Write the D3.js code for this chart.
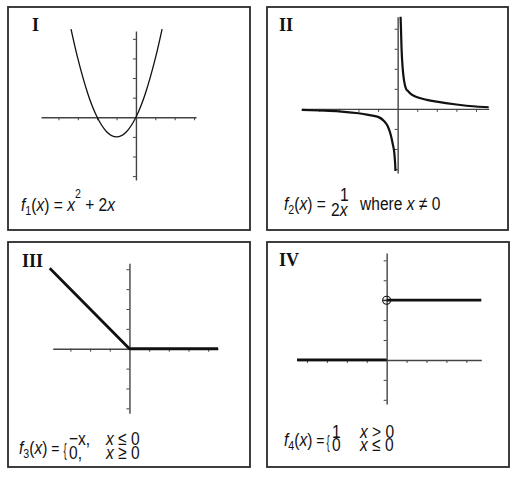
<!DOCTYPE html>
<html><head><meta charset="utf-8">
<script src="https://cdn.jsdelivr.net/npm/d3@7"></script>
<style>
html,body{margin:0;padding:0;background:#fff;}
svg{display:block;}
.fx{font-family:"Liberation Sans",Arial,sans-serif;font-size:19px;fill:#111;}
.roman{font-family:"Liberation Serif","Times New Roman",serif;font-weight:bold;font-size:18px;fill:#111;}
.axis path,.axis line{stroke:#444;}
.axis path{stroke-width:1.4;}
.axis line{stroke-width:1;}
</style></head><body>
<svg id="c" width="523" height="482"></svg>
<script>
// ---------- data ----------
const panelLabels = ["I", "II", "III", "IV"];

// Panel I : f1(x) = x^2 + 2x
const f1X = [-3.35, -3, -2.5, -2, -1.5, -1, -0.5, 0, 0.5, 1, 1.35];
const f1Y = [4.5, 3, 1.25, 0, -0.75, -1, -0.75, 0, 1.25, 3, 4.5];
const f1XTicks = [-4, -3, -2, -1, 1, 2, 3];
const f1YTicks = [-3, -2, -1, 1, 2, 3, 4];

// Panel II : f2(x) = 1/(2x)
const f2NegX = [-4.9, -4, -3, -2, -1.5, -1, -0.7, -0.5, -0.35, -0.25, -0.17, -0.13, -0.11];
const f2NegY = [-0.05, -0.08, -0.12, -0.22, -0.3, -0.4, -0.6, -0.88, -1.3, -1.75, -2.2, -2.7, -3.1];
const f2PosX = [0.15, 0.17, 0.2, 0.26, 0.33, 0.43, 0.5, 0.7, 1, 1.5, 2, 3, 4, 4.65];
const f2PosY = [4.6, 4.0, 3.0, 2.0, 1.4, 1.0, 0.92, 0.72, 0.58, 0.45, 0.36, 0.22, 0.12, 0.08];
const f2XTicks = [-4, -3, -2, -1, 1, 2, 3, 4];
const f2YTicks = [-3, -2, -1, 1, 2, 3, 4];

// Panel III : f3(x) = -x (x<=0), 0 (x>=0)
const f3X = [-4.05, 0, 4.5];
const f3Y = [4.05, 0, 0];
const f3XTicks = [-3, -2, -1, 1, 2, 3, 4];
const f3YTicks = [-3, -2, -1, 1, 2, 3, 4];

// Panel IV : f4(x) = 1 (x>0), 0 (x<=0)
const f4LowX = [-4.5, 0];
const f4LowY = [0, 0];
const f4HighX = [0, 4.75];
const f4HighY = [1, 1];
const f4OpenX = [0];
const f4OpenY = [1];
const f4XTicks = [-4, -3, -2, -1, 1, 2, 3, 4];
const f4YTicks = [-2/3, -1/3, 1/3, 2/3, 1, 4/3, 5/3];

// ---------- drawing ----------
const svg = d3.select("#c");

const boxes = [
  {x: 8, y: 7, w: 242, h: 223},
  {x: 267, y: 7, w: 241, h: 223},
  {x: 8, y: 242, w: 242, h: 225},
  {x: 267, y: 242, w: 242, h: 225}
];
const labelPos = [[32, 31], [279, 31], [22, 267], [279, 266]];

boxes.forEach((b, i) => {
  svg.append("rect").attr("x", b.x).attr("y", b.y).attr("width", b.w).attr("height", b.h)
    .attr("fill", "none").attr("stroke", "#2a2a2a").attr("stroke-width", 1.8);
  svg.append("text").attr("class", "roman").attr("x", labelPos[i][0]).attr("y", labelPos[i][1]).text(panelLabels[i]);
});

function drawAxes(x, y, xt, yt) {
  const g = svg.append("g");
  g.append("g").attr("class", "axis").attr("transform", `translate(0,${y(0)})`)
    .call(d3.axisBottom(x).tickValues(xt).tickSize(3).tickSizeOuter(0).tickFormat(""));
  g.append("g").attr("class", "axis").attr("transform", `translate(${x(0)},0)`)
    .call(d3.axisLeft(y).tickValues(yt).tickSize(3).tickSizeOuter(0).tickFormat(""));
}
function drawCurve(x, y, xs, ys, width, curve) {
  const pts = xs.map((v, i) => [v, ys[i]]);
  svg.append("path").datum(pts)
    .attr("d", d3.line().x(d => x(d[0])).y(d => y(d[1])).curve(curve || d3.curveLinear))
    .attr("fill", "none").attr("stroke", "#111").attr("stroke-width", width)
    .attr("stroke-linejoin", "round");
}

// Panel I
{
  const x = d3.scaleLinear().domain([-4.9, 3.1]).range([41, 196]);
  const y = d3.scaleLinear().domain([-3.2, 4.4]).range([180, 31]);
  drawAxes(x, y, f1XTicks, f1YTicks);
  drawCurve(x, y, f1X, f1Y, 1.3, d3.curveNatural);
}
// Panel II
{
  const x = d3.scaleLinear().domain([-4.9, 4.65]).range([301.7, 488.7]);
  const y = d3.scaleLinear().domain([-3.2, 4.6]).range([173, 16.7]);
  drawAxes(x, y, f2XTicks, f2YTicks);
  drawCurve(x, y, f2NegX, f2NegY, 2.2, d3.curveMonotoneX);
  drawCurve(x, y, f2PosX, f2PosY, 2.2, d3.curveMonotoneX);
}
// Panel III
{
  const x = d3.scaleLinear().domain([-3.9, 4.5]).range([52.7, 218]);
  const y = d3.scaleLinear().domain([-3.25, 4.3]).range([413.3, 263.3]);
  drawAxes(x, y, f3XTicks, f3YTicks);
  drawCurve(x, y, f3X, f3Y, 2.8);
}
// Panel IV
{
  const x = d3.scaleLinear().domain([-4.5, 4.75]).range([297, 481.3]);
  const y = d3.scaleLinear().domain([-0.737, 1.79]).range([404, 253]);
  drawAxes(x, y, f4XTicks, f4YTicks);
  drawCurve(x, y, f4LowX, f4LowY, 2.8);
  drawCurve(x, y, f4HighX, f4HighY, 2.8);
  f4OpenX.forEach((v, i) => {
    svg.append("circle").attr("cx", x(v)).attr("cy", y(f4OpenY[i])).attr("r", 4)
      .attr("fill", "none").attr("stroke", "#111").attr("stroke-width", 1.1);
    svg.append("line").attr("x1", x(v) - 4).attr("x2", x(v)).attr("y1", y(f4OpenY[i])).attr("y2", y(f4OpenY[i]))
      .attr("stroke", "#111").attr("stroke-width", 1);
  });
}

// ---------- formulas ----------
const SX = 0.82;
function formula(x, y, parts, fs) {
  const t = svg.append("text").attr("class", "fx")
    .attr("transform", `translate(${x},${y}) scale(${SX},1)`);
  if (fs) t.attr("font-size", fs);
  parts.forEach(p => {
    const s = t.append("tspan").text(p.t);
    if (p.i) s.attr("font-style", "italic");
    if (p.dy) s.attr("dy", p.dy);
    if (p.fs) s.attr("font-size", p.fs);
  });
  return t;
}
function brace(x, y) {
  svg.append("text").attr("class", "fx").attr("font-size", 31).attr("font-weight", 300)
    .attr("transform", `translate(${x},${y}) scale(0.5,1)`).text("{");
}
// I
formula(21, 211, [
  {t: "f", i: 1}, {t: "1", fs: 13, dy: 4}, {t: "(", dy: -4}, {t: "x", i: 1}, {t: ") = "},
  {t: "x", i: 1}, {t: "2", fs: 13, dy: -13}, {t: " + 2", dy: 13}, {t: "x", i: 1}
]);
// II
formula(284, 210, [
  {t: "f", i: 1}, {t: "2", fs: 13, dy: 4}, {t: "(", dy: -4}, {t: "x", i: 1}, {t: ") ="}
]);
formula(340, 201, [{t: "1"}], 17);
formula(331, 216, [{t: "2"}, {t: "x", i: 1}], 17);
formula(360, 210, [{t: "where "}, {t: "x", i: 1}, {t: " ≠ 0"}]);
// III
formula(19, 454, [
  {t: "f", i: 1}, {t: "3", fs: 13, dy: 4}, {t: "(", dy: -4}, {t: "x", i: 1}, {t: ")"}, {t: " =", fs: 17}
]);
brace(63.5, 456);
formula(69, 445, [{t: "−x,"}], 17);
formula(106, 445, [{t: "x", i: 1}, {t: " ≤ 0"}], 17);
formula(69, 459, [{t: "0,"}], 17);
formula(106, 459, [{t: "x", i: 1}, {t: " ≥ 0"}], 17);
// IV
formula(284, 446, [
  {t: "f", i: 1}, {t: "4", fs: 13, dy: 4}, {t: "(", dy: -4}, {t: "x", i: 1}, {t: ")"}, {t: " =", fs: 17}
]);
brace(326.5, 448);
formula(332, 438, [{t: "1"}], 17);
formula(360, 438, [{t: "x", i: 1}, {t: " > 0"}], 17);
formula(332, 451, [{t: "0"}], 17);
formula(360, 451, [{t: "x", i: 1}, {t: " ≤ 0"}], 17);
</script>
</body></html>
